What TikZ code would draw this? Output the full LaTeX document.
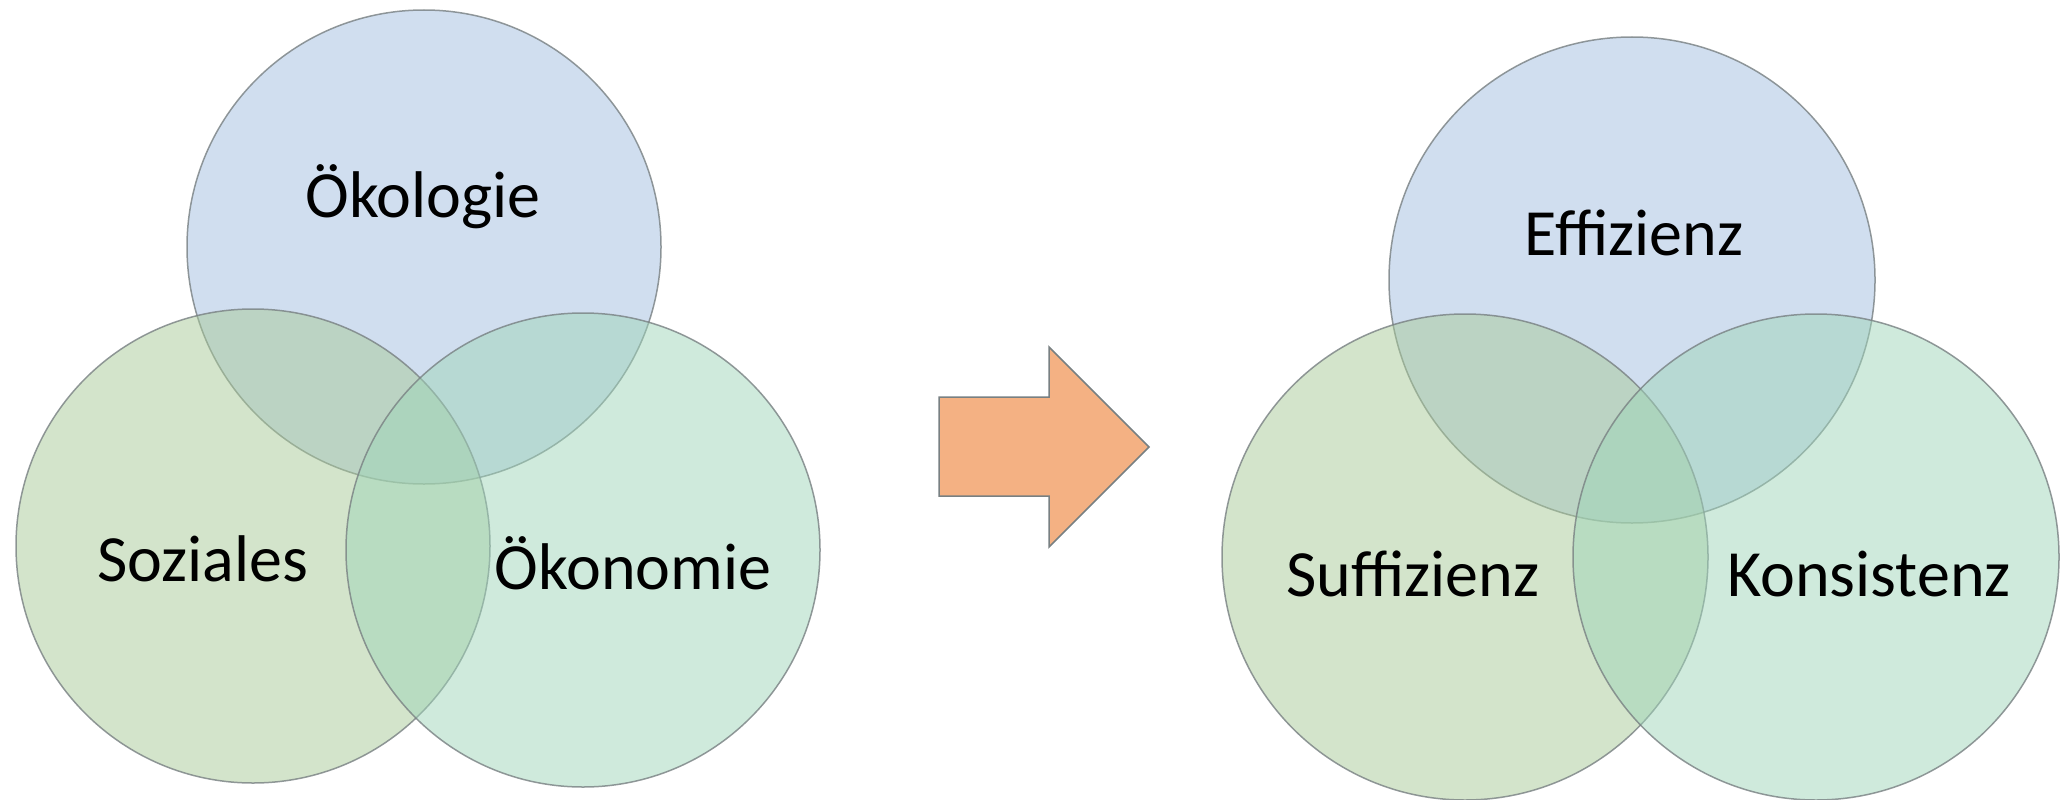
\documentclass[tikz,border=0pt]{standalone}
\usepackage{fontspec}
\setmainfont{Carlito}
\definecolor{ecoC}{RGB}{161,189,223}
\definecolor{socC}{RGB}{167,201,151}
\definecolor{ekoC}{RGB}{159,213,185}
\definecolor{arrowC}{RGB}{244,177,131}
\definecolor{edgeC}{RGB}{120,128,130}
\tikzset{
  venn/.style={circle, draw=edgeC, draw opacity=0.8, line width=1.5pt, fill opacity=0.5, inner sep=0pt, outer sep=0pt, minimum size=#1},
  lbl/.style={font=\fontsize{66}{79}\selectfont, text=black, inner sep=0pt}
}
\begin{document}
\begin{tikzpicture}[x=1pt,y=-1pt]
\useasboundingbox (0,0) rectangle (2061,800);
% left diagram
\node[venn=474pt, fill=ecoC] (oekol) at (424,247) {};
\node[venn=474pt, fill=socC] (sozi) at (253,546) {};
\node[venn=474pt, fill=ekoC] (oekon) at (583,550) {};
\node[lbl] (toekol) at (423,197) {Ökologie};
\node[lbl] (tsozi) at (203,559) {Soziales};
\node[lbl] (toekon) at (633,563) {Ökonomie};
% arrow
\draw[fill=arrowC, draw=edgeC, line width=1.5pt, line join=miter]
  (939,397) -- (1049,397) -- (1049,347) -- (1149,447) -- (1049,547) -- (1049,496) -- (939,496) -- cycle;
% right diagram
\node[venn=486pt, fill=ecoC] (eff) at (1632,280) {};
\node[venn=486pt, fill=socC] (suff) at (1465,557) {};
\node[venn=486pt, fill=ekoC] (kons) at (1816,557) {};
\node[lbl] (teff) at (1634,233) {Effizienz};
\node[lbl] (tsuff) at (1413,574) {Suffizienz};
\node[lbl] (tkons) at (1869,574) {Konsistenz};
\end{tikzpicture}
\end{document}
